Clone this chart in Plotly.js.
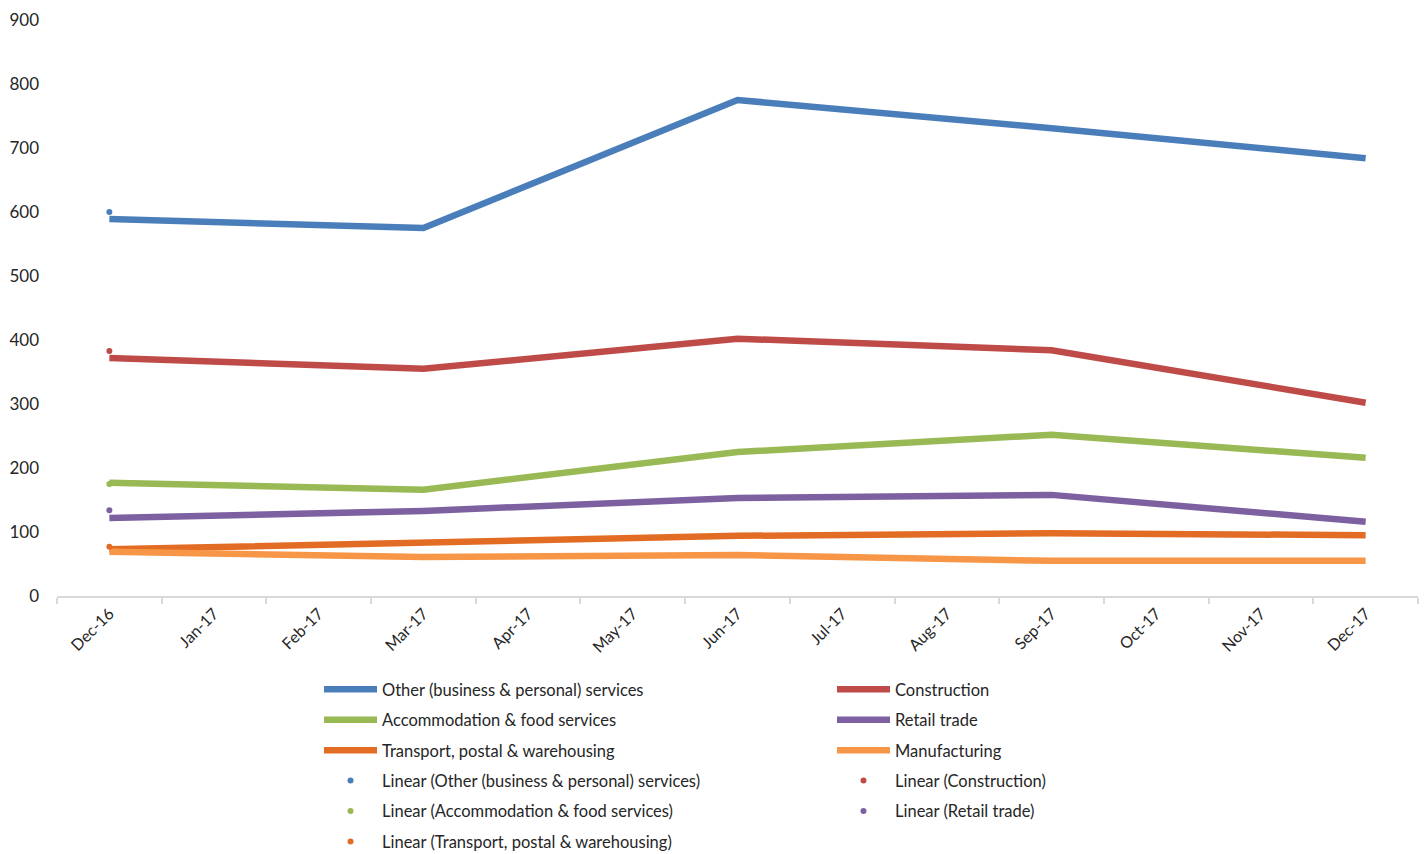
<!DOCTYPE html>
<html><head><meta charset="utf-8">
<script src="https://cdn.plot.ly/plotly-3.0.1.min.js"></script>
<style>html,body{margin:0;padding:0;background:#fff}#chart{width:1427px;height:854px}</style>
</head><body><div id="chart"></div>
<script>
const months = ["Dec-16","Jan-17","Feb-17","Mar-17","Apr-17","May-17","Jun-17","Jul-17","Aug-17","Sep-17","Oct-17","Nov-17","Dec-17"];
const other = [589,null,null,575,null,null,775,null,null,731,null,null,684];
const construction = [372,null,null,355,null,null,402,null,null,384,null,null,302];
const accommodation = [177,null,null,166,null,null,225,null,null,252,null,null,216];
const retail = [122,null,null,133,null,null,153,null,null,158,null,null,116];
const transport = [73,null,null,84,null,null,94,null,null,98,null,null,95];
const manufacturing = [69,null,null,61,null,null,64,null,null,55,null,null,55];
// Linear trendline values visible at Dec-16 only
const trendOther = [600];
const trendConstruction = [383];
const trendAccommodation = [175];
const trendRetail = [134];
const trendTransport = [77];

const names = ["Other (business & personal) services","Construction","Accommodation & food services","Retail trade","Transport, postal & warehousing","Manufacturing"];
const colors = ["#4A7EBB","#BE4B48","#98B954","#7D60A0","#E36C24","#F79646"];
const series = [other, construction, accommodation, retail, transport, manufacturing];
const trends = [trendOther, trendConstruction, trendAccommodation, trendRetail, trendTransport];

const traces = [];
series.forEach((s,i)=>{
  traces.push({x: months, y: s, name: names[i], type:"scatter", mode:"lines", connectgaps:true,
    line:{color:colors[i], width:6.5}, legend: (i%2===0) ? "legend" : "legend2",
    legendgroup:"g"+i, legendrank: i});
});
trends.forEach((t,i)=>{
  traces.push({x: [months[0]], y: t, name: "Linear (" + names[i] + ")", type:"scatter", mode:"markers",
    marker:{color:colors[i], size:6}, legend: (i%2===0) ? "legend" : "legend2",
    legendgroup:"t"+i, legendrank: 10+i});
});
const legendBase = {orientation:"v", yanchor:"top", y:-0.132, xanchor:"left",
  itemwidth:53, font:{size:16.5, color:"#262626"}, traceorder:"grouped", tracegroupgap:6,
  bgcolor:"rgba(0,0,0,0)"};
const layout = {
  width:1427, height:854,
  margin:{l:57, r:9, t:20, b:258, autoexpand:false},
  paper_bgcolor:"#fff", plot_bgcolor:"#fff",
  font:{family:"Lato, 'Open Sans', sans-serif", size:16, color:"#262626"},
  showlegend:true,
  xaxis:{type:"category", categoryorder:"array", categoryarray:months, tickangle:-45,
    showline:true, linecolor:"#D9D9D9", linewidth:2, ticks:"outside", tickson:"boundaries",
    ticklen:6, tickcolor:"#D9D9D9", tickwidth:2, showgrid:false, zeroline:false,
    range:[-0.5,12.5], tickfont:{size:16, color:"#262626"}},
  yaxis:{range:[0,900], dtick:100, showgrid:false, zeroline:false, showline:false,
    ticks:"", tickfont:{size:17, color:"#262626"}, ticklabelstandoff:17},
  legend:Object.assign({}, legendBase, {x:(319-57)/1361}),
  legend2:Object.assign({}, legendBase, {x:(832-57)/1361})
};
Plotly.newPlot("chart", traces, layout, {displayModeBar:false, staticPlot:true});
</script></body></html>
